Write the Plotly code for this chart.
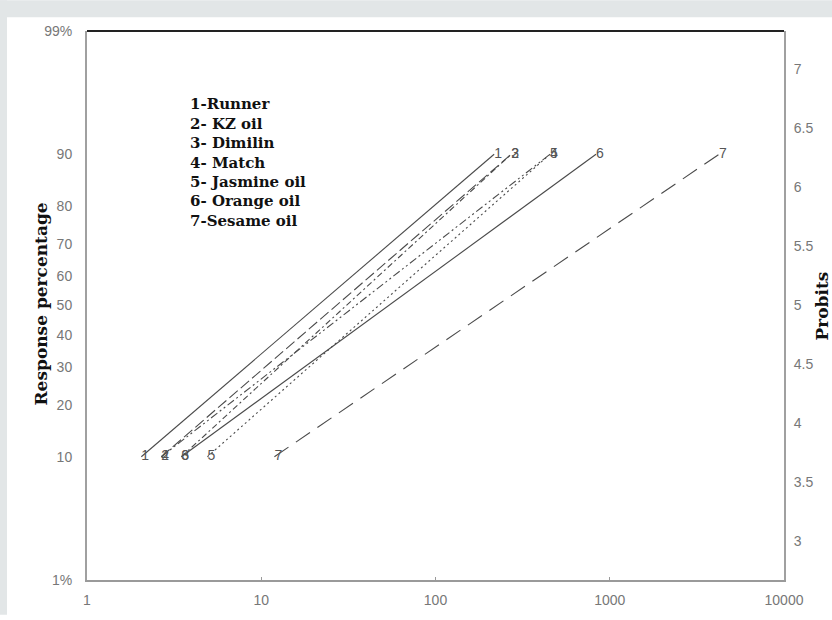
import plotly.graph_objects as go
from statistics import NormalDist

# ---------------- data ----------------
series_ids = ["1", "2", "3", "4", "5", "6", "7"]
series_names = ["1-Runner", "2- KZ oil", "3- Dimilin", "4- Match",
                "5- Jasmine oil", "6- Orange oil", "7-Sesame oil"]
dose_at_10 = [2.05, 2.67, 3.48, 2.67, 4.91, 3.48, 11.9]     # LC10
dose_at_90 = [217, 272, 272, 454, 454, 834, 4236]          # LC90
response_pcts = [10, 90]

left_tick_pcts = [1, 10, 20, 30, 40, 50, 60, 70, 80, 90, 99]
left_tick_text = ["1%", "10", "20", "30", "40", "50", "60", "70", "80", "90", "99%"]
right_tick_vals = [3, 3.5, 4, 4.5, 5, 5.5, 6, 6.5, 7]
right_tick_text = ["3", "3.5", "4", "4.5", "5", "5.5", "6", "6.5", "7"]
x_tick_vals = [1, 10, 100, 1000, 10000]
x_tick_text = ["1", "10", "100", "1000", "10000"]

# ---------------- styles ----------------
dashes = ["solid", "11px,4px", "6px,3px,2px,3px", "8px,3px,2px,3px,2px,3px",
          "2px,3px", "solid", "17px,9px"]
LINE_COLOR = "#4a4a4a"
TICK_COLOR = "#777777"

W, H = 832, 620
ML, MR, MT, MB = 87, 48, 31, 35
PW, PH = W - ML - MR, H - MT - MB


def probit(p):
    return NormalDist().inv_cdf(p / 100.0) + 5


def px2x(px):
    return (px - ML) / PW


def py2y(py):
    return (H - MB - py) / PH


fig = go.Figure()
for sid, d10, d90, dash in zip(series_ids, dose_at_10, dose_at_90, dashes):
    fig.add_trace(go.Scatter(
        x=[d10, d90], y=[probit(p) for p in response_pcts],
        mode="lines+text", text=[sid, sid], textposition="middle right",
        textfont=dict(family="Liberation Sans", size=14, color="#555555"),
        line=dict(color=LINE_COLOR, width=1.1, dash=dash),
        showlegend=False, hoverinfo="skip", cliponaxis=False))

yr = [probit(1), probit(99)]
# invisible trace for right axis
fig.add_trace(go.Scatter(x=[1], y=[5], yaxis="y2", mode="markers",
                         marker=dict(opacity=0), showlegend=False, hoverinfo="skip"))

shapes = [
    dict(type="rect", xref="paper", yref="paper", x0=px2x(0), x1=px2x(W),
         y0=py2y(17), y1=py2y(0), fillcolor="#e2e6e7", line_width=0, layer="above"),
    dict(type="rect", xref="paper", yref="paper", x0=px2x(0), x1=px2x(7),
         y0=py2y(H), y1=py2y(0), fillcolor="#e2e6e7", line_width=0, layer="above"),
    dict(type="line", xref="paper", yref="paper", x0=0, x1=1, y0=1, y1=1,
         line=dict(color="#222222", width=2.2), layer="above"),
]

annotations = []
for i, name in enumerate(series_names):
    annotations.append(dict(
        text=name, xref="paper", yref="paper", x=px2x(188), y=py2y(105 + i * 19.6),
        xanchor="left", yanchor="middle", showarrow=False,
        font=dict(family="DejaVu Serif", size=15, color="#111111", weight="bold")))
annotations.append(dict(
    text="Response percentage", xref="paper", yref="paper", x=px2x(41), y=py2y(307),
    xanchor="center", yanchor="middle", textangle=-90, showarrow=False,
    font=dict(family="DejaVu Serif", size=17, color="#111111", weight="bold")))
annotations.append(dict(
    text="Probits", xref="paper", yref="paper", x=px2x(821), y=py2y(308),
    xanchor="center", yanchor="middle", textangle=-90, showarrow=False,
    font=dict(family="DejaVu Serif", size=17, color="#111111", weight="bold")))

fig.update_layout(
    width=W, height=H, margin=dict(l=ML, r=MR, t=MT, b=MB, pad=0),
    paper_bgcolor="white", plot_bgcolor="white",
    shapes=shapes, annotations=annotations,
    xaxis=dict(type="log", range=[0, 4], tickvals=x_tick_vals, ticktext=x_tick_text,
               showgrid=False, zeroline=False, showline=True, linecolor="#9a9a9a",
               linewidth=2, ticks="inside", ticklen=3, tickcolor="#9a9a9a",
               ticklabelstandoff=6,
               tickfont=dict(family="Liberation Sans", size=14, color=TICK_COLOR)),
    yaxis=dict(range=yr, tickvals=[probit(p) for p in left_tick_pcts],
               ticktext=left_tick_text, showgrid=False, zeroline=False,
               showline=True, linecolor="#a0a0a0", linewidth=2, ticks="",
               ticklabelstandoff=10,
               tickfont=dict(family="Liberation Sans", size=14, color=TICK_COLOR)),
    yaxis2=dict(range=yr, overlaying="y", side="right", tickvals=right_tick_vals,
                ticktext=right_tick_text, showgrid=False, zeroline=False,
                showline=True, linecolor="#a0a0a0", linewidth=2, ticks="",
                ticklabelstandoff=5,
                tickfont=dict(family="Liberation Sans", size=14, color=TICK_COLOR)),
)

fig.write_html("out.html",
               config={"displayModeBar": False, "staticPlot": True},
               post_script="document.body.style.margin='0';"
                           "document.body.style.overflow='hidden';"
                           "document.documentElement.style.overflow='hidden';"
                           "document.documentElement.style.background='white';"
                           "document.body.style.background='white';")
